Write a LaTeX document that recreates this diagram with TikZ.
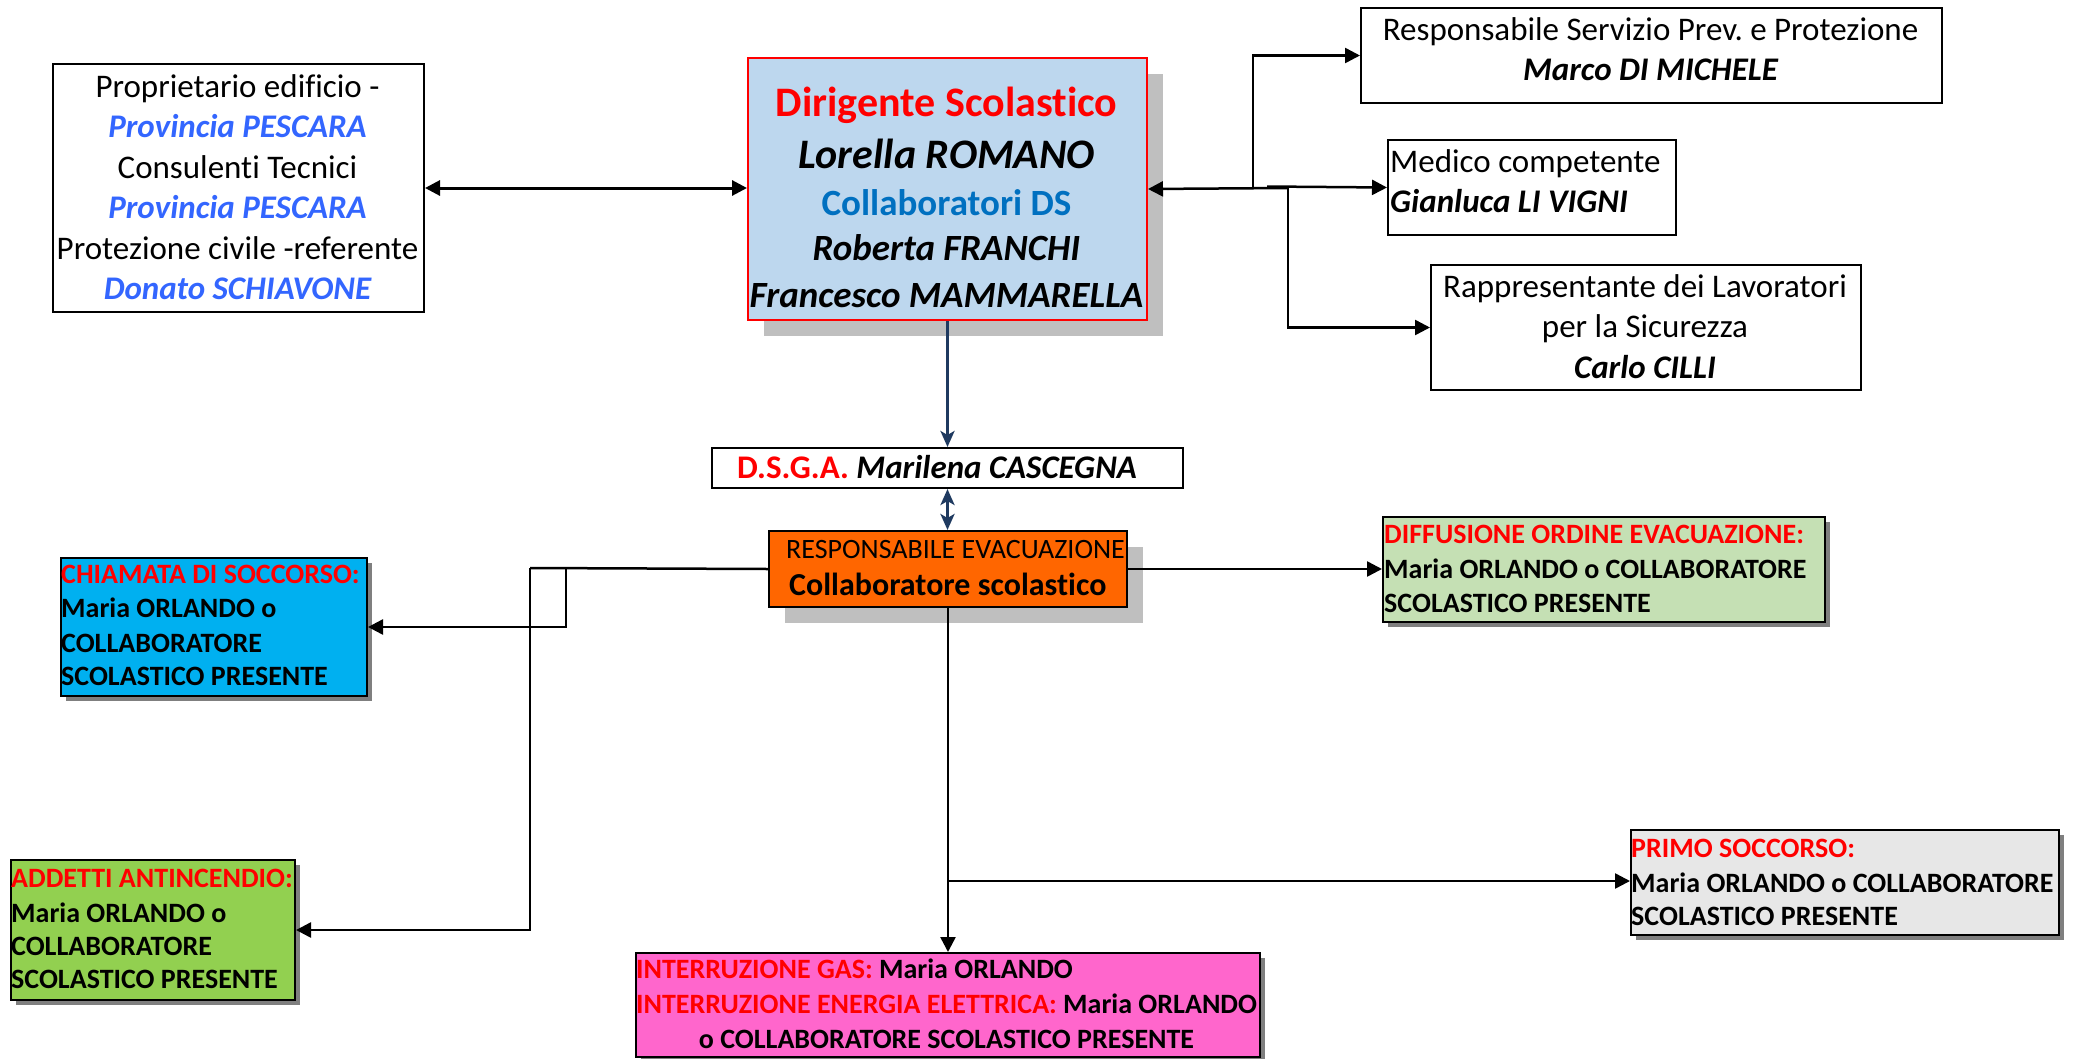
\documentclass[tikz,border=0pt]{standalone}
\usepackage{fontspec}
\setmainfont{Carlito}[Ligatures={NoCommon,NoContextual}]
\usetikzlibrary{arrows.meta,shadows}
\definecolor{dirfill}{HTML}{BDD7EE}
\definecolor{dsblue}{HTML}{0070C0}
\definecolor{provblue}{HTML}{3366FF}
\definecolor{evacfill}{HTML}{FF6600}
\definecolor{chiamfill}{HTML}{00B0F0}
\definecolor{addfill}{HTML}{92D050}
\definecolor{difffill}{HTML}{C5E0B4}
\definecolor{intrfill}{HTML}{FF66CC}
\definecolor{primofill}{HTML}{E7E7E7}
\definecolor{lightshadow}{HTML}{BFBFBF}
\definecolor{darkshadow}{HTML}{7F7F7F}
\definecolor{navy}{HTML}{1F3A60}
\newcommand\fsz[1]{\fontsize{#1}{#1}\selectfont}
\frenchspacing
\begin{document}
\begin{tikzpicture}[x=1pt,y=-1pt,
  box/.style={draw=black, line width=2pt, inner sep=0pt, anchor=north west},
  bigshadow/.style={general shadow={fill=lightshadow, shadow xshift=16pt, shadow yshift=-16pt}},
  smallshadow/.style={general shadow={fill=darkshadow, shadow xshift=5pt, shadow yshift=-5pt}},
  tl/.style={anchor=base, inner sep=0pt},
  tlw/.style={anchor=base west, inner sep=0pt},
  conn/.style={draw=black, line width=2.5pt, -{Triangle[length=15pt,width=15pt]}},
  connb/.style={draw=black, line width=3pt, {Triangle[length=15pt,width=15pt]}-{Triangle[length=15pt,width=15pt]}},
  navyconn/.style={draw=navy, line width=3pt, -{Stealth[length=16pt,width=14pt,inset=4pt]}},
  navyboth/.style={draw=navy, line width=3pt, {Stealth[length=16pt,width=14pt,inset=4pt]}-{Stealth[length=16pt,width=14pt,inset=4pt]}},
]
\useasboundingbox (0,0) rectangle (2073,1058);

% ---- boxes ----
\node[box, fill=white, minimum width=371pt, minimum height=248pt] (own) at (52,63) {};
\node[box, draw=red, fill=dirfill, bigshadow, minimum width=399pt, minimum height=262pt] (dir) at (747,57) {};
\node[box, fill=white, minimum width=581pt, minimum height=95pt] (resp) at (1360,7) {};
\node[box, fill=white, minimum width=288pt, minimum height=95pt] (med) at (1387,139) {};
\node[box, fill=white, minimum width=430pt, minimum height=125pt] (rls) at (1430,264) {};
\node[box, fill=white, minimum width=471pt, minimum height=40pt] (dsga) at (711,447) {};
\node[box, fill=evacfill, bigshadow, minimum width=358pt, minimum height=76pt] (evac) at (768,530) {};
\node[box, fill=chiamfill, smallshadow, minimum width=306pt, minimum height=138pt] (chiam) at (60,557) {};
\node[box, fill=addfill, smallshadow, minimum width=284pt, minimum height=140pt] (add) at (10,859) {};
\node[box, fill=difffill, smallshadow, minimum width=442pt, minimum height=105pt] (diff) at (1382,516) {};
\node[box, fill=intrfill, smallshadow, minimum width=624pt, minimum height=104pt] (intr) at (635,952) {};
\node[box, fill=primofill, smallshadow, minimum width=428pt, minimum height=105pt] (primo) at (1630,829) {};

% ---- texts: owner ----
\node[tl, font=\fsz{33}] (own1) at (237.5,97) {Proprietario edificio -};
\node[tl, font=\fsz{33}\bfseries\itshape, text=provblue] (own2) at (237.5,137.5) {Provincia PESCARA};
\node[tl, font=\fsz{33}] (own3) at (237.5,178) {Consulenti Tecnici};
\node[tl, font=\fsz{33}\bfseries\itshape, text=provblue] (own4) at (237.5,218.5) {Provincia PESCARA};
\node[tl, font=\fsz{33}] (own5) at (237.5,259) {Protezione civile -referente};
\node[tl, font=\fsz{33}\bfseries\itshape, text=provblue] (own6) at (237.5,299.5) {Donato SCHIAVONE};

% ---- texts: dirigente ----
\node[tl, font=\fsz{42}\bfseries, text=red] (dir1) at (946.5,116) {Dirigente Scolastico};
\node[tl, font=\fsz{42}\bfseries\itshape] (dir2) at (946.5,168) {Lorella ROMANO};
\node[tl, font=\fsz{37}\bfseries, text=dsblue] (dir3) at (946.5,215) {Collaboratori DS};
\node[tl, font=\fsz{37}\bfseries\itshape] (dir4) at (946.5,260) {Roberta FRANCHI};
\node[tl, font=\fsz{37}\bfseries\itshape] (dir5) at (946.5,307) {Francesco MAMMARELLA};

% ---- texts: right column ----
\node[tl, font=\fsz{33}] (resp1) at (1650.5,40) {Responsabile Servizio Prev. e Protezione};
\node[tl, font=\fsz{33}\bfseries\itshape] (resp2) at (1650.5,80) {Marco DI MICHELE};
\node[tlw, font=\fsz{33}] (med1) at (1390,172) {Medico competente};
\node[tlw, font=\fsz{33}\bfseries\itshape] (med2) at (1390,212) {Gianluca LI VIGNI};
\node[tl, font=\fsz{33}] (rls1) at (1645,297) {Rappresentante dei Lavoratori};
\node[tl, font=\fsz{33}] (rls2) at (1645,337) {per la Sicurezza};
\node[tl, font=\fsz{33}\bfseries\itshape] (rls3) at (1645,378) {Carlo CILLI};

% ---- texts: dsga, evac ----
\node[tl, font=\fsz{33}\bfseries] (dsga1) at (937,478) {\textcolor{red}{D.S.G.A.} \textit{Marilena CASCEGNA}};
\node[tlw, font=\fsz{28}] (evac1) at (786,558) {RESPONSABILE EVACUAZIONE};
\node[tlw, font=\fsz{32}\bfseries] (evac2) at (789,595) {Collaboratore scolastico};

% ---- texts: task boxes ----
\node[tlw, font=\fsz{28}\bfseries, text=red] (chiam1) at (61,583) {CHIAMATA DI SOCCORSO:};
\node[tlw, font=\fsz{28}\bfseries] (chiam2) at (61,617) {Maria ORLANDO o};
\node[tlw, font=\fsz{28}\bfseries] (chiam3) at (61,652) {COLLABORATORE};
\node[tlw, font=\fsz{28}\bfseries] (chiam4) at (61,685) {SCOLASTICO PRESENTE};

\node[tlw, font=\fsz{28}\bfseries, text=red] (add1) at (11,887) {ADDETTI ANTINCENDIO:};
\node[tlw, font=\fsz{28}\bfseries] (add2) at (11,922) {Maria ORLANDO o};
\node[tlw, font=\fsz{28}\bfseries] (add3) at (11,955) {COLLABORATORE};
\node[tlw, font=\fsz{28}\bfseries] (add4) at (11,988) {SCOLASTICO PRESENTE};

\node[tlw, font=\fsz{28}\bfseries, text=red] (diff1) at (1384,543) {DIFFUSIONE ORDINE EVACUAZIONE:};
\node[tlw, font=\fsz{28}\bfseries] (diff2) at (1384,578) {Maria ORLANDO o COLLABORATORE};
\node[tlw, font=\fsz{28}\bfseries] (diff3) at (1384,612) {SCOLASTICO PRESENTE};

\node[tlw, font=\fsz{28}\bfseries] (intr1) at (636,978) {\textcolor{red}{INTERRUZIONE GAS:} Maria ORLANDO};
\node[tlw, font=\fsz{28}\bfseries] (intr2) at (636,1013) {\textcolor{red}{INTERRUZIONE ENERGIA ELETTRICA:} Maria ORLANDO};
\node[tl, font=\fsz{28}\bfseries] (intr3) at (946.5,1048) {o COLLABORATORE SCOLASTICO PRESENTE};

\node[tlw, font=\fsz{28}\bfseries, text=red] (primo1) at (1631,857) {PRIMO SOCCORSO:};
\node[tlw, font=\fsz{28}\bfseries] (primo2) at (1631,892) {Maria ORLANDO o COLLABORATORE};
\node[tlw, font=\fsz{28}\bfseries] (primo3) at (1631,925) {SCOLASTICO PRESENTE};

% ---- connectors ----
\draw[connb] (own.east) -- (own.east -| dir.west);

\coordinate (jr0) at (1253,188);
\coordinate (jr1) at (1267,186.5);
\coordinate (jr2) at (1288,188);
\draw[conn] (jr2) -- (dir.east);
\draw[conn] (jr0) |- (resp.west);
\draw[conn] (jr1) -- (med.west);
\draw[conn] (jr2) |- (rls.west);

\draw[navyconn] (dir.south) -- (dir.south |- dsga.north);
\draw[navyboth] (dsga.south) -- (dsga.south |- evac.north);

\coordinate (jl1) at (530,568);
\coordinate (jl2) at (566,568);
\draw[line width=2.5pt] (evac.west) -- (jl1);
\draw[conn] (jl1) |- (add.east);
\draw[conn] (jl2) |- (chiam.east);
\draw[conn] (evac.east) -- (evac.east -| diff.west);
\draw[conn] (evac.south) -- (evac.south |- intr.north);
\coordinate (jb) at (947,881);
\draw[conn] (jb) -- (jb -| primo.west);
\end{tikzpicture}
\end{document}
